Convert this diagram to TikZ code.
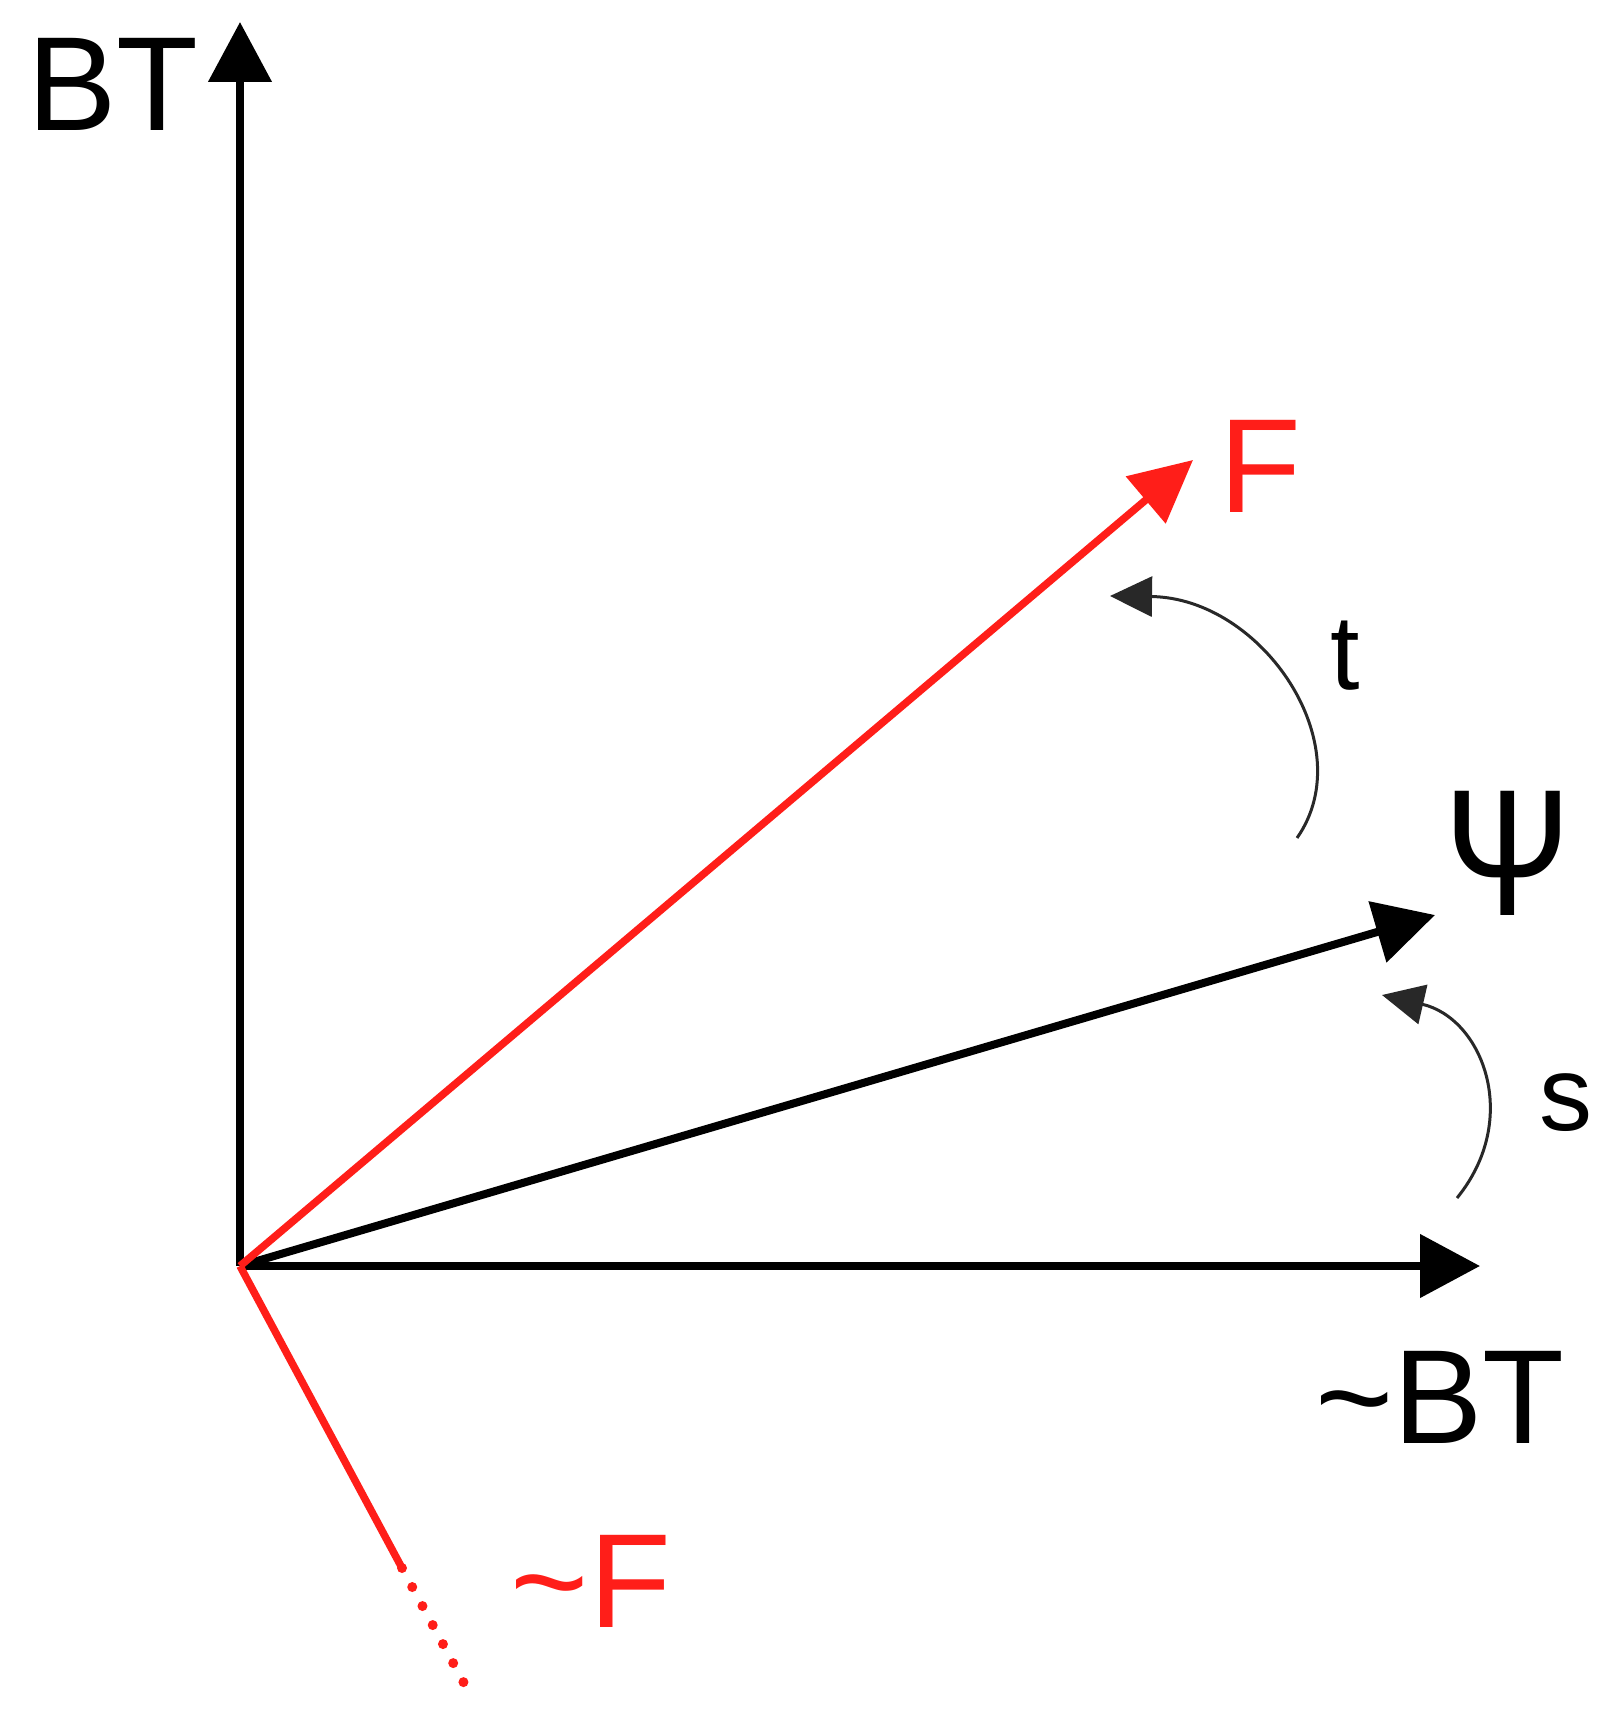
\documentclass[tikz,border=0pt]{standalone}
\usepackage{fontspec}
\setmainfont{Liberation Sans}
\usetikzlibrary{arrows.meta}
\definecolor{vred}{RGB}{255,30,25}
\definecolor{arcgray}{RGB}{40,40,40}
\begin{document}
\begin{tikzpicture}[x=1pt,y=-1pt,
  axis/.style={line width=8pt,-{Triangle[length=60pt,width=62pt]}},
  redvec/.style={line width=7.5pt,vred,-{Triangle[length=62pt,width=60pt]}},
  rot/.style={line width=3pt,arcgray,-{Triangle[length=42pt,width=40pt]}},
  biglabel/.style={inner sep=0pt,font=\fontsize{134}{134}\selectfont},
  smalllabel/.style={inner sep=0pt,font=\fontsize{106}{106}\selectfont}]
\useasboundingbox (0,0) rectangle (1617,1715);
% coordinates
\coordinate (O) at (240,1266);
\coordinate (BTtip) at (240,22);
\coordinate (nBTtip) at (1480,1266);
\coordinate (Ftip) at (1193,460);
\coordinate (Psitip) at (1435,915);
\coordinate (nFend) at (402,1568);
\coordinate (nFdots) at (465,1685);
\coordinate (tstart) at (1297,838);
\coordinate (ttip) at (1110,596);
\coordinate (sstart) at (1457,1198);
\coordinate (stip) at (1382,995);
% axes
\draw[axis] (O) -- (BTtip);
\draw[axis] (O) -- (nBTtip);
% vectors
\draw[axis] (O) -- (Psitip);
\draw[redvec] (O) -- (Ftip);
\draw[line width=7.5pt,vred] (O) -- (nFend);
\draw[line width=10pt,vred,line cap=round,dash pattern=on 0pt off 21.6pt] (nFend) -- (nFdots);
% rotation arcs
\draw[rot] (tstart) .. controls (1362,745) and (1262,598) .. (ttip);
\draw[rot] (sstart) .. controls (1522,1118) and (1482,1018) .. (stip);
% labels
\node[biglabel] (BT) at (113,84) {BT};
\node[biglabel] (nBT) at (1440,1397) {\textasciitilde BT};
\node[biglabel,text=vred] (F) at (1260,466) {F};
\node[biglabel,text=vred] (nF) at (591,1581) {\textasciitilde F};
\node[inner sep=0pt,font=\fontsize{172}{172}\selectfont] (Psi) at (1508,853) {\scalebox{0.88}[1.05]{Ψ}};
\node[smalllabel] (t) at (1345,656) {t};
\node[smalllabel] (s) at (1566,1103) {s};
\end{tikzpicture}
\end{document}
